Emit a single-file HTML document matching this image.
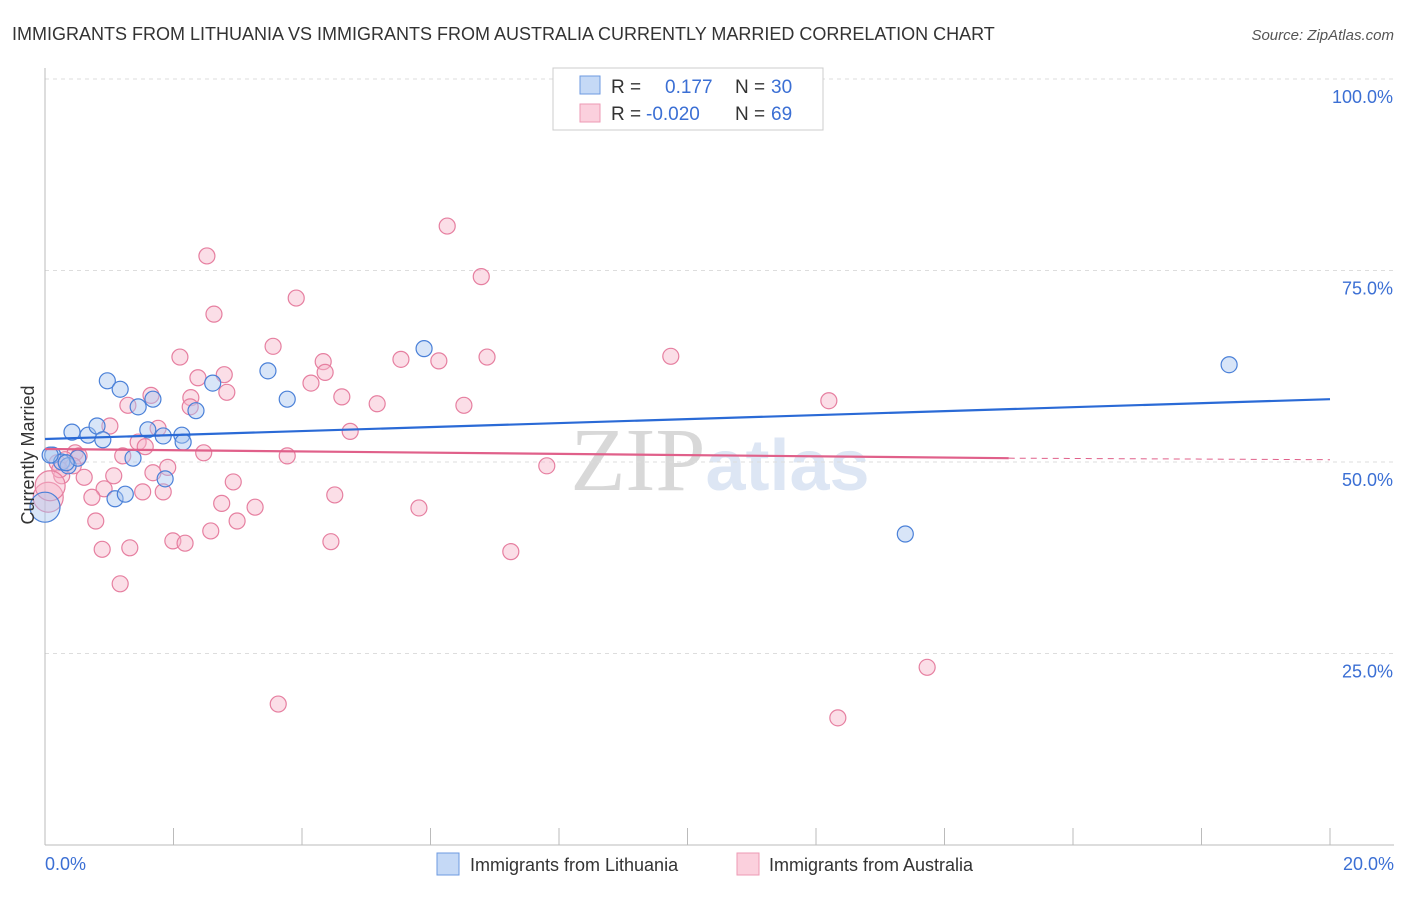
<!DOCTYPE html>
<html><head><meta charset="utf-8"><style>
body{margin:0;background:#fff;font-family:"Liberation Sans",sans-serif;}
</style></head><body>
<svg width="1406" height="892" xmlns="http://www.w3.org/2000/svg" id="c" font-family="Liberation Sans, sans-serif">
<text x="12" y="40" font-size="18" fill="#333">IMMIGRANTS FROM LITHUANIA VS IMMIGRANTS FROM AUSTRALIA CURRENTLY MARRIED CORRELATION CHART</text>
<text x="1394" y="40" font-size="15" fill="#555" font-style="italic" text-anchor="end">Source: ZipAtlas.com</text>
<text x="720" y="490" font-size="90" fill="#e4e4e4" text-anchor="middle"><tspan font-family="Liberation Serif, serif" fill="#d8d8d8">ZIP</tspan><tspan fill="#dde6f4" font-weight="bold" font-size="72">atlas</tspan></text>
<g id="grid"></g><g id="axes"></g><g id="pts"></g><g id="trend"></g>
<text x="34" y="455" font-size="18" fill="#333" text-anchor="middle" transform="rotate(-90 34 455)">Currently Married</text>
<text x="45" y="870" font-size="18" fill="#3b6fd4">0.0%</text>
<text x="1394" y="870" font-size="18" fill="#3b6fd4" text-anchor="end">20.0%</text>
<g>
<rect x="553" y="68" width="270" height="62" fill="#fff" stroke="#ccc"/>
<rect x="580" y="76" width="20" height="18" fill="#c5d9f6" stroke="#6d9ae0"/>
<rect x="580" y="104" width="20" height="18" fill="#fbd0dd" stroke="#ee9ab4"/>
<text x="611" y="93" font-size="19" fill="#333">R = </text><text x="665" y="93" font-size="19" fill="#3b6fd4">0.177</text>
<text x="735" y="93" font-size="19" fill="#333">N = </text><text x="771" y="93" font-size="19" fill="#3b6fd4">30</text>
<text x="611" y="120" font-size="19" fill="#333">R = </text><text x="646" y="120" font-size="19" fill="#3b6fd4">-0.020</text>
<text x="735" y="120" font-size="19" fill="#333">N = </text><text x="771" y="120" font-size="19" fill="#3b6fd4">69</text>
</g>
<g>
<rect x="437" y="853" width="22" height="22" fill="#c5d9f6" stroke="#6d9ae0"/>
<text x="470" y="871" font-size="18" fill="#333">Immigrants from Lithuania</text>
<rect x="737" y="853" width="22" height="22" fill="#fbd0dd" stroke="#ee9ab4"/>
<text x="769" y="871" font-size="18" fill="#333">Immigrants from Australia</text>
</g>
</svg>
<script>
const yTicks=[100,75,50,25];
const yTickLabels=["100.0%","75.0%","50.0%","25.0%"];
const xTicks=[0,2,4,6,8,10,12,14,16,18,20];
const lithX=[0.12,0.42,0.67,0.81,0.90,0.97,1.17,1.09,1.25,1.37,1.45,1.60,1.68,1.84,1.87,2.13,2.15,2.35,2.61,3.47,3.77,5.90,18.43,13.39,0.26,0.36,0.51,0.0,0.08,0.33];
const lithY=[50.9,53.9,53.5,54.7,52.9,60.6,59.5,45.2,45.8,50.5,57.2,54.2,58.2,53.4,47.8,53.5,52.6,56.7,60.3,61.9,58.2,64.8,62.7,40.6,50.0,49.5,50.5,44.1,50.9,49.9];
const ausX=[6.26,2.52,6.79,3.91,2.63,3.55,2.10,4.33,5.54,6.13,6.88,9.74,2.79,2.38,4.36,4.14,2.83,1.65,2.27,4.62,5.17,6.52,12.20,1.29,2.26,1.01,1.76,4.75,1.45,1.56,0.47,0.53,1.21,2.47,3.77,0.19,1.91,7.81,0.26,0.61,1.68,1.07,2.93,0.92,1.52,1.84,0.73,4.51,0.05,2.75,3.27,5.82,0.79,2.99,2.58,1.99,2.18,4.45,0.89,1.32,7.25,1.17,3.63,12.34,13.73,0.31,0.44,0.23,0.08];
const ausY=[80.8,76.9,74.2,71.4,69.3,65.1,63.7,63.1,63.4,63.2,63.7,63.8,61.4,61.0,61.7,60.3,59.1,58.7,58.4,58.5,57.6,57.4,58.0,57.4,57.2,54.7,54.4,54.0,52.6,52.0,51.2,50.8,50.8,51.2,50.8,49.9,49.3,49.5,48.2,48.0,48.6,48.2,47.4,46.5,46.1,46.1,45.4,45.7,45.4,44.6,44.1,44.0,42.3,42.3,41.0,39.7,39.4,39.6,38.6,38.8,38.3,34.1,18.4,16.6,23.2,50.3,49.5,49.0,46.9];
const lithTrend=[53.0,58.2];
const ausTrend=[51.7,50.5,50.3];
const ausTrendEnd=15;
const NS="http://www.w3.org/2000/svg";
const X=v=>45+v/20*1285;
const Y=v=>845-v/100*766;
function mk(p,t,a){const e=document.createElementNS(NS,t);for(const k in a)e.setAttribute(k,a[k]);p.appendChild(e);return e;}
const grid=document.getElementById('grid'),axes=document.getElementById('axes'),pts=document.getElementById('pts'),tr=document.getElementById('trend');
yTicks.forEach((t,i)=>{
 const l=mk(grid,'line',{x1:45,x2:1394,y1:Y(t),y2:Y(t),stroke:'#ddd','stroke-dasharray':'4,4'});
 
 
 const tx=mk(grid,'text',{x:1393,y:Y(t)+24,'font-size':18,fill:'#3b6fd4','text-anchor':'end'});
 tx.textContent=yTickLabels[i];
 
 
});
const ya=mk(axes,'line',{x1:45,x2:45,y1:68,y2:845,stroke:'#bbb'});


const xa=mk(axes,'line',{x1:45,x2:1394,y1:845,y2:845,stroke:'#bbb'});


xTicks.forEach(t=>{const l=mk(axes,'line',{x1:X(t),x2:X(t),y1:828,y2:845,stroke:'#bbb'});
 
 });
function dots(xs,ys,fill,stroke,name){xs.forEach((x,i)=>{
 const big=(x<0.1&&(ys[i]<47));
 const c=mk(pts,'circle',{cx:X(x),cy:Y(ys[i]),r:big?15:8,fill:fill,'fill-opacity':0.45,stroke:stroke,'stroke-width':1.2});
 
 });}
dots(ausX,ausY,'#f7b6c9','#e67fa0','point-australia');
dots(lithX,lithY,'#a9c6f0','#4a80d8','point-lithuania');
const b=mk(tr,'line',{x1:X(0),y1:Y(lithTrend[0]),x2:X(20),y2:Y(lithTrend[1]),stroke:'#2a6ad6','stroke-width':2.2});


const p=mk(tr,'line',{x1:X(0),y1:Y(ausTrend[0]),x2:X(ausTrendEnd),y2:Y(ausTrend[1]),stroke:'#e0608a','stroke-width':2.2});


const pd=mk(tr,'line',{x1:X(ausTrendEnd),y1:Y(ausTrend[1]),x2:X(20),y2:Y(ausTrend[2]),stroke:'#e0608a','stroke-width':1,'stroke-dasharray':'6,5'});


</script>
</body></html>
